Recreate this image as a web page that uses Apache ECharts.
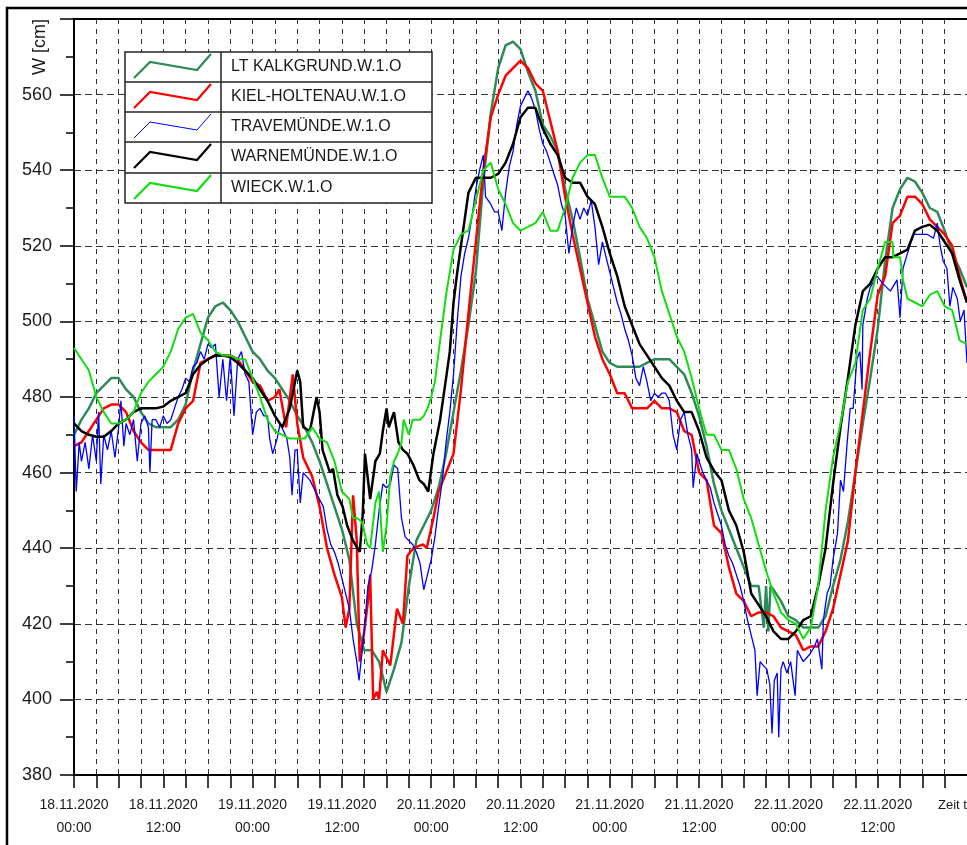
<!DOCTYPE html>
<html>
<head>
<meta charset="utf-8">
<script src="https://cdn.jsdelivr.net/npm/echarts@6.0.0/dist/echarts.min.js"></script>
<style>
  html, body { margin: 0; padding: 0; background: #fff; }
  #chart { width: 967px; height: 845px; }
</style>
</head>
<body>
<div id="chart"></div>
<script>
// hours since 18.11.2020 00:00, water level W [cm]
const names = ['LT KALKGRUND.W.1.O', 'KIEL-HOLTENAU.W.1.O', 'TRAVEMÜNDE.W.1.O', 'WARNEMÜNDE.W.1.O', 'WIECK.W.1.O'];
const colors = ['#2e8b57', '#ff0000', '#0000ff', '#000000', '#11dd11'];

const kalkgrund = [[0,470],[1,474],[2,477],[3,481],[4,483],[5,485],[6,485],[7,482],[8,480],[9,476],[10,473],[11,472],[12,472],[13,472],[14,474],[15,478],[16,487],[17,494],[18,501],[19,504],[20,505],[21,503],[22,500],[23,496],[24,492],[25,490],[26,487],[27,485],[28,482],[29,479],[30,475],[31,472],[32,468],[33,463],[34,457],[35,451],[36,445],[37,437],[38,420],[39,413],[40,413],[41,410],[42,402],[43,408],[44,415],[45,430],[46,442],[47,446],[48,450],[49,456],[50,465],[51,476],[52,487],[53,499],[54,513],[55,537],[56,555],[57,567],[58,573],[59,574],[60,572],[61,566],[62,561],[63,552],[64,549],[65,545],[66,535],[67,527],[68,517],[69,506],[70,499],[71,492],[72,489],[73,488],[74,488],[75,488],[76,488],[77,489],[78,490],[79,490],[80,490],[81,488],[82,486],[83,481],[84,475],[85,467],[86,457],[87,450],[88,445],[89,440],[90,435],[91,430],[92,430],[92.7,419],[93,430],[93.3,418],[93.6,430],[94,429],[95,426],[96,422],[97,421],[98,419],[99,419],[100,419],[101,422],[102,430],[103,437],[104,447],[105,460],[106,473],[107,485],[108,498],[109,516],[110,530],[111,535],[112,538],[113,537],[114,534],[115,530],[116,529],[117,524],[118,518],[119,514],[120,509]];

const kiel = [[0,467],[1,468],[2,471],[3,474],[4,477],[5,478],[6,478],[7,476],[8,471],[9,468],[10,466],[11,466],[12,466],[13,466],[14,473],[15,477],[16,479],[17,489],[18,490],[19,491],[20,491],[21,491],[22,490],[23,487],[24,484],[25,483],[26,479],[27,480],[27.6,482],[28.5,472],[29.4,486],[30,473],[30.8,464],[32,459],[33,451],[34,440],[35,433],[36,427],[36.5,419],[37,424],[37.5,454],[38,442],[38.4,410],[39,418],[39.5,426],[39.8,433],[40.2,400],[40.7,402],[41,400],[41.5,413],[42.5,409],[43.4,424],[44.2,420],[44.8,438],[45.6,440],[46.9,441],[47.4,440],[48.3,448],[49,455],[50,460],[51,465],[52,482],[53,502],[54,521],[55,540],[56,554],[57,560],[58,565],[59,567],[60,569],[61,567],[62,563],[63,561],[64,553],[65,545],[66,533],[67,523],[68,514],[69,505],[70,496],[71,490],[72,486],[73,481],[74,481],[75,477],[76,477],[77,477],[78,479],[79,477],[80,477],[81,476],[82,471],[83,470],[84,460],[85,458],[86,446],[87,444],[88,435],[89,428],[90,426],[91,422],[92,423],[93,423],[94,422],[95,419],[96,418],[97,417],[98,413],[99,414],[100,414],[101,418],[102,424],[103,433],[104,442],[105,460],[106,476],[107,492],[108,507],[109,512],[110,526],[111,528],[112,533],[113,533],[114,531],[115,527],[116,525],[117,523],[118,520],[119,512],[120,505]];

const travemuende = [[0,475],[0.3,455],[0.7,468],[1,463],[1.5,468],[2,461],[2.5,470],[3,463],[3.3,476],[3.6,457],[4,470],[4.5,466],[5,471],[5.5,464],[6,472],[6.3,479],[6.7,467],[7,473],[7.5,470],[8,474],[8.5,463],[9,473],[9.5,475],[10,472],[10.2,460],[10.5,474],[11,474],[11.5,472],[12,475],[12.5,473],[13,474],[13.5,477],[14,480],[14.5,482],[15,485],[15.5,484],[16,488],[16.5,489],[17,492],[17.5,490],[18,494],[18.5,493],[19,494],[19.5,480],[20,490],[20.5,479],[21,491],[21.5,475],[22,490],[22.5,492],[23,486],[23.5,484],[24,470],[24.5,476],[25,477],[25.5,475],[26,475],[26.3,469],[26.7,465],[27.3,469],[27.7,473],[28.6,469],[29,464],[29.3,454],[29.7,466],[30,466],[30.4,452],[30.8,460],[31.7,458],[32.2,456],[32.7,454],[33.5,451],[34,445],[34.5,441],[35,439],[35.5,436],[36,432],[36.5,428],[37,424],[37.5,416],[38,410],[38.3,405],[39,418],[39.5,430],[40,434],[40.5,441],[41,450],[41.5,457],[42,456],[42.5,457],[43,462],[43.5,461],[44,448],[44.5,443],[45,442],[45.5,441],[46,439],[46.5,436],[47,429],[47.5,433],[48,437],[48.5,443],[49,451],[49.5,458],[50,468],[50.5,476],[51,486],[51.5,500],[52,512],[52.5,518],[53,522],[53.5,528],[54,535],[54.5,540],[55,544],[55.3,533],[56,531],[56.5,529],[57,529],[57.5,524],[58,534],[58.5,541],[59,545],[59.5,552],[60,557],[60.5,559],[61,561],[61.5,559],[62,556],[62.5,551],[63,547],[63.5,545],[64,542],[64.5,539],[65,536],[65.5,531],[66,528],[66.5,518],[67,525],[67.5,530],[68,527],[68.5,530],[69,528],[69.5,532],[70,525],[70.5,515],[71,521],[71.5,517],[72,513],[72.5,509],[73,505],[73.5,502],[74,498],[74.5,495],[75,491],[75.5,485],[76,483],[76.5,488],[77,484],[77.5,479],[78,481],[78.5,480],[79,481],[79.5,481],[80,479],[80.5,470],[81,466],[81.5,474],[82,476],[82.5,470],[83,466],[83.2,456],[83.7,465],[84,463],[84.5,460],[85,458],[85.5,456],[86,452],[86.5,449],[87,446],[87.5,441],[88,438],[88.5,436],[89,433],[89.5,430],[90,426],[90.5,421],[91,417],[91.5,413],[91.8,401],[92.2,410],[92.6,409],[93.1,408],[93.5,404],[93.8,391],[94.1,405],[94.5,407],[94.7,390],[95,408],[95.3,410],[95.8,407],[96.3,410],[96.9,401],[97.2,413],[98,410],[98.9,412],[99.5,414],[99.9,416],[100.5,408],[100.7,421],[101.2,428],[101.6,430],[102,437],[102.6,444],[103,458],[103.4,455],[103.9,468],[104.3,477],[104.7,477],[105.2,490],[105.6,492],[105.9,482],[106,499],[106.6,506],[107,509],[107.9,512],[108.7,510],[109.7,508],[110.6,511],[111,501],[111.4,514],[112,518],[112.8,523],[113.5,523],[114.7,523],[115.5,522],[116,526],[116.4,520],[116.8,516],[117.3,514],[117.7,504],[118.1,509],[118.7,506],[119.1,500],[119.6,503],[120,489]];

const warnemuende = [[0,473],[1,471],[2,470],[3,469.5],[4,469.5],[5,471],[6,473],[7,474],[8,476],[9,477],[10,477],[11,477],[12,477.5],[13,479],[14,480],[15,481],[16,486],[17,488.5],[18,490],[19,491],[20,491],[21,490.6],[22,489],[23,487],[24,485],[25,482],[26,479],[27,475],[28,472],[29,477],[29.7,484],[30,487],[30.4,484],[30.8,472],[31.7,471],[32.6,480],[33,476],[33.4,466],[34.4,460],[34.8,461],[35.4,454],[36.1,451],[36.7,446],[37.5,442],[38.4,439],[38.8,449],[39.1,465],[39.8,453],[40.5,463],[41.1,465],[41.5,471],[42,477],[42.3,472],[43,476],[43.6,468],[44.2,466],[44.8,465],[45.6,462],[46.4,458],[47,457],[47.6,455],[48.3,465],[49.2,474],[50,485],[50.5,492],[51,505],[51.5,513],[52,520],[52.5,527],[53,534],[54,538],[55,538],[56,538],[57,539],[58,542],[59,547],[60,554],[61,556.5],[62,556.5],[63,551],[64,547],[65,544],[66,538],[67,536.7],[68,536.7],[69,533],[70,531],[71,525],[72,518],[73,512],[74,504],[75,499],[76,494],[77,491],[78,488],[79,485],[80,483],[81,479],[82,476],[83,476],[84,471],[85,464],[86,460.5],[87,458],[88,450],[89,446],[90,439],[91,428],[92,425],[93,422],[94,418],[95,416],[96,416],[97,418],[98,421],[99,422],[100,430],[101,440],[102,457],[103,472],[104,485],[105,499],[106,508],[107,510],[108,514],[109,517],[110,517],[111,518],[112,519],[113,524],[114,525],[115,525.6],[116,524],[117,521],[118,518],[119,511],[120,505]];

const wieck = [[0,493],[1,490],[2,487],[3,480],[4,476],[5,473],[6,473],[7,474],[8,476],[9,481],[10,484],[11,486],[12,488],[13,492],[14,498],[15,501],[16,502],[17,497],[18,495],[19,492],[20,491],[21,491],[22,490],[23,490],[24,485],[25,480],[26,474],[27,471],[28,470],[29,469],[30,469],[31,469],[32,472],[33,469],[34,468],[35,463],[36,455],[37,453],[37.5,448],[38,448],[38.7,447],[39.4,441],[39.8,440],[40.5,452],[41,455],[41.5,439],[42,446],[42.5,459],[43,463],[43.5,465],[44,468],[44.3,474],[45,470],[45.5,474],[46,474],[46.5,474],[47,475],[47.5,477],[48,480],[48.5,484],[49,492],[50,507],[51,519],[52,523],[53,524],[54,532],[55,540],[56,542],[57,535],[58,531],[59,526],[60,524],[61,525],[62,526],[63,529],[64,524],[65,524],[66,530],[67,538],[68,542],[69,544],[70,544],[71,538],[72,533],[73,533],[74,533],[75,530],[76,525],[77,522],[78,517],[79,508],[80,502],[81,496],[82,492],[83,485],[84,477],[85,470],[86,470],[87,466],[88,466],[89,461],[90,453],[91,448],[92,441],[93,434],[94,428],[95,423],[96,421],[97,420],[98,416],[99,419],[100,430],[101,450],[102,464],[103,473],[104,484],[105,489],[106,503],[107,506],[108,514],[109,521],[110,521],[110.1,517],[111,517],[111.4,511],[112,506],[113,505],[114,504],[115,507],[116,508],[117,504],[118,503],[119,495],[120,494]];

const seriesData = [kalkgrund, kiel, travemuende, warnemuende, wieck];
const lineWidths = [2.5, 2.5, 1.3, 2.5, 2];

const chart = echarts.init(document.getElementById('chart'), null, { renderer: 'canvas' });

function dateLabel(h) {
  if (h % 12 !== 0 || h >= 120) return '';
  const day = 18 + Math.floor(h / 24);
  const hh = h % 24 === 0 ? '00' : '12';
  return day + '.11.2020\n' + hh + ':00';
}

// legend table drawn as graphic, on top of the grid lines
const rowTops = [0, 30, 60, 90, 121];
const legendChildren = [
  { type: 'rect', z: 100, shape: { x: 0, y: 0, width: 307, height: 151 }, style: { fill: '#fff', stroke: '#222', lineWidth: 1.5 } },
  { type: 'line', z: 101, shape: { x1: 96, y1: 0, x2: 96, y2: 151 }, style: { stroke: '#222', lineWidth: 1.5 } }
];
rowTops.forEach(function (r, i) {
  if (i > 0) {
    legendChildren.push({ type: 'line', z: 101, shape: { x1: 0, y1: r, x2: 307, y2: r }, style: { stroke: '#222', lineWidth: 1.5 } });
  }
  legendChildren.push({
    type: 'polyline', z: 101,
    shape: { points: [[9, r + 26], [25, r + 10], [72, r + 18], [86, r + 2]] },
    style: { stroke: colors[i], lineWidth: i === 2 ? 1 : 2.2, fill: null }
  });
  legendChildren.push({
    type: 'text', z: 101, x: 106, y: r + 15,
    style: { text: names[i], fill: '#1a1a1a', font: '16px "Liberation Sans", Arial, sans-serif', verticalAlign: 'middle' }
  });
});

chart.setOption({
  animation: false,
  backgroundColor: '#fff',
  grid: { left: 74, right: 0, top: 19, bottom: 70 },
  xAxis: [
    {
      type: 'value',
      min: 0,
      max: 120,
      interval: 3,
      axisLine: { show: true, lineStyle: { color: '#000', width: 2 } },
      axisTick: { show: true, length: 13, lineStyle: { color: '#000', width: 1.5 } },
      axisLabel: {
        formatter: dateLabel,
        margin: 19,
        lineHeight: 23,
        fontSize: 14,
        fontFamily: '"Liberation Sans", Arial, sans-serif',
        color: '#1a1a1a',
        showMaxLabel: false
      },
      splitLine: { show: true, lineStyle: { color: '#333', width: 1, type: [5, 5] } }
    },
    {
      type: 'value',
      position: 'top',
      min: 0,
      max: 120,
      axisLine: { show: true, onZero: false, lineStyle: { color: '#000', width: 2 } },
      axisTick: { show: false },
      axisLabel: { show: false },
      splitLine: { show: false }
    }
  ],
  yAxis: {
    type: 'value',
    min: 380,
    max: 580,
    interval: 20,
    axisLine: { show: true, lineStyle: { color: '#000', width: 2 } },
    axisTick: { show: true, length: 14, lineStyle: { color: '#000', width: 1.5 } },
    minorTick: { show: true, splitNumber: 2, length: 8, lineStyle: { color: '#000', width: 1.5 } },
    axisLabel: {
      margin: 22,
      fontSize: 18,
      fontFamily: '"Liberation Sans", Arial, sans-serif',
      color: '#1a1a1a',
      showMaxLabel: false
    },
    splitLine: { show: true, lineStyle: { color: '#333', width: 1, type: [7, 4] } }
  },
  graphic: [
    { type: 'rect', z: 0, shape: { x: 7, y: 8, width: 1000, height: 900 }, style: { fill: null, stroke: '#000', lineWidth: 2.5 } },
    {
      type: 'text', x: 40, y: 47, rotation: Math.PI / 2,
      style: { text: 'W [cm]', fill: '#1a1a1a', font: '18px "Liberation Sans", Arial, sans-serif', align: 'center', verticalAlign: 'middle' }
    },
    {
      type: 'text', x: 938, y: 805,
      style: { text: 'Zeit t', fill: '#1a1a1a', font: '13px "Liberation Sans", Arial, sans-serif', verticalAlign: 'middle' }
    },
    { type: 'group', x: 125, y: 52, children: legendChildren }
  ],
  series: seriesData.map(function (d, i) {
    return {
      name: names[i],
      type: 'line',
      data: d,
      showSymbol: false,
      clip: true,
      z: 2 + i,
      lineStyle: { color: colors[i], width: lineWidths[i] },
      itemStyle: { color: colors[i] }
    };
  })
});
</script>
</body>
</html>
